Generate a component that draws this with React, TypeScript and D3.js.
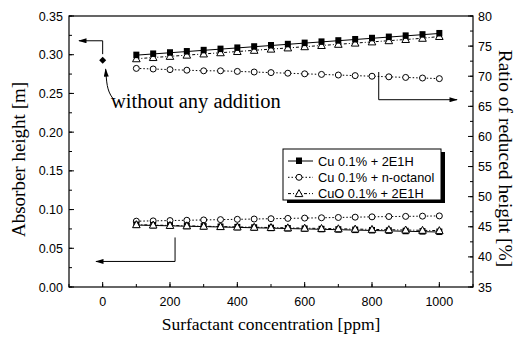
import React from "react";
import * as d3 from "d3";

const conc = [100,150,200,250,300,350,400,450,500,550,600,650,700,750,800,850,900,950,1000];
// right axis (ratio of reduced height, %)
const ratioCu2E1H = [73.5,73.7,73.9,74.1,74.3,74.5,74.7,74.9,75.1,75.3,75.5,75.7,75.9,76.1,76.3,76.5,76.7,76.9,77.1];
const ratioCuOct = [71.3,71.2,71.1,71.0,70.9,70.9,70.8,70.7,70.6,70.5,70.4,70.3,70.2,70.1,70.0,69.9,69.8,69.7,69.6];
const ratioCuO2E1H = [72.9,73.1,73.3,73.5,73.7,73.9,74.1,74.3,74.5,74.7,74.9,75.1,75.3,75.5,75.7,75.9,76.1,76.3,76.6];
// left axis (absorber height, m)
const hCu2E1H = [0.080,0.0795,0.079,0.0785,0.078,0.0775,0.077,0.0765,0.076,0.0755,0.075,0.0745,0.074,0.0735,0.073,0.0725,0.072,0.0715,0.071];
const hCuOct = [0.085,0.0854,0.0858,0.0862,0.0866,0.087,0.0874,0.0878,0.0882,0.0886,0.089,0.0894,0.0898,0.0902,0.0906,0.091,0.0912,0.0915,0.0918];
const hCuO2E1H = [0.0805,0.080,0.0795,0.079,0.0785,0.078,0.0776,0.0772,0.0768,0.0764,0.076,0.0756,0.0752,0.0748,0.0744,0.074,0.0736,0.0732,0.0728];
const noAdditionX = 0;
const noAdditionH = 0.293;

const leftTicks = [0.0,0.05,0.10,0.15,0.20,0.25,0.30,0.35];
const rightTicks = [35,40,45,50,55,60,65,70,75,80];
const xTicks = [0,200,400,600,800,1000];
const legendLabels = ["Cu 0.1% + 2E1H","Cu 0.1% + n-octanol","CuO 0.1% + 2E1H"];

const L = 69, R = 473, T = 16, B = 287;
const x = d3.scaleLinear().domain([-100,1100]).range([L,R]);
const yL = d3.scaleLinear().domain([0,0.35]).range([B,T]);
const yR = d3.scaleLinear().domain([35,80]).range([B,T]);

const sans = "Liberation Sans, Arial, sans-serif";
const serif = "Liberation Serif, Times New Roman, serif";

function Square({cx,cy}:{cx:number;cy:number}) {
  return <rect x={cx-3} y={cy-3.5} width={6} height={6.5} fill="#000"/>;
}
function Circle({cx,cy}:{cx:number;cy:number}) {
  return <circle cx={cx} cy={cy} r={3} fill="#fff" stroke="#000" strokeWidth={1}/>;
}
function Tri({cx,cy}:{cx:number;cy:number}) {
  return <path d={`M${cx},${cy-4}L${cx+3.8},${cy+3}L${cx-3.8},${cy+3}Z`} fill="#fff" stroke="#000" strokeWidth={1}/>;
}

export default function App() {
  const lineL = (vals:number[], ys:any) => d3.line<number>().x((_,i)=>x(conc[i])).y(v=>ys(v))(vals) || "";
  const minorL = d3.range(0,0.351,0.025);
  const minorR = d3.range(35,80.1,2.5);
  const minorX = d3.range(-100,1101,100);
  const series = [
    {vals: ratioCuO2E1H, ys: yR, M: Tri, dash: "3,2,1,2"},
    {vals: ratioCu2E1H, ys: yR, M: Square, dash: ""},
    {vals: ratioCuOct, ys: yR, M: Circle, dash: "1.5,2"},
    {vals: hCuOct, ys: yL, M: Circle, dash: "1.5,2"},
    {vals: hCu2E1H, ys: yL, M: Square, dash: ""},
    {vals: hCuO2E1H, ys: yL, M: Tri, dash: "3,2,1,2"},
  ];
  const dx = x(noAdditionX), dy = yL(noAdditionH);
  return (
    <svg width={515} height={341} style={{display:"block",position:"absolute",left:0,top:0}}>
      <defs>
        <marker id="ah" viewBox="0 0 10 6" refX="9" refY="3" markerWidth="9" markerHeight="5" orient="auto">
          <path d="M0,0L10,3L0,6Z" fill="#000"/>
        </marker>
      </defs>
      <rect width={515} height={341} fill="#fff"/>
      <rect x={L} y={T} width={R-L} height={B-T} fill="none" stroke="#000" strokeWidth={1.2}/>
      {leftTicks.map(t=>(
        <g key={"l"+t}>
          <line x1={L} x2={L+5} y1={yL(t)} y2={yL(t)} stroke="#000"/>
          <text x={L-6} y={yL(t)+4.5} textAnchor="end" fontFamily={sans} fontSize={12.5}>{t.toFixed(2)}</text>
        </g>
      ))}
      {minorL.map(t=><line key={"ml"+t} x1={L} x2={L+3} y1={yL(t)} y2={yL(t)} stroke="#000"/>)}
      {rightTicks.map(t=>(
        <g key={"r"+t}>
          <line x1={R-5} x2={R} y1={yR(t)} y2={yR(t)} stroke="#000"/>
          <text x={R+5} y={yR(t)+4.5} textAnchor="start" fontFamily={sans} fontSize={12.5}>{t}</text>
        </g>
      ))}
      {minorR.map(t=><line key={"mr"+t} x1={R-3} x2={R} y1={yR(t)} y2={yR(t)} stroke="#000"/>)}
      {xTicks.map(t=>(
        <g key={"x"+t}>
          <line x1={x(t)} x2={x(t)} y1={B} y2={B-5} stroke="#000"/>
          <text x={x(t)} y={B+19} textAnchor="middle" fontFamily={sans} fontSize={12.5}>{t}</text>
        </g>
      ))}
      {minorX.map(t=><line key={"mx"+t} x1={x(t)} x2={x(t)} y1={B} y2={B-3} stroke="#000"/>)}

      {series.map((s,k)=>(
        <g key={"s"+k}>
          <path d={lineL(s.vals,s.ys)} fill="none" stroke="#000" strokeWidth={1} strokeDasharray={s.dash}/>
          {s.vals.map((v,i)=><s.M key={i} cx={x(conc[i])} cy={s.ys(v)}/>)}
        </g>
      ))}

      <path d={`M${dx-3.5},${dy}L${dx},${dy-3.5}L${dx+3.5},${dy}L${dx},${dy+3.5}Z`} fill="#000"/>
      <path d={`M${dx},${dy-6}L${dx},${yL(0.318)}L${L+10},${yL(0.318)}`} fill="none" stroke="#000" markerEnd="url(#ah)"/>
      <path d={`M${dx+10},${dy+38}C${dx+4},${dy+30} ${dx+4},${dy+22} ${dx+3},${dy+9}`} fill="none" stroke="#000" markerEnd="url(#ah)"/>
      <text x={111} y={108} fontFamily={serif} fontSize={20.5}>without any addition</text>
      <path d={`M${x(820)},${yR(70.7)}L${x(820)},${yR(66.1)}L${R-16},${yR(66.1)}`} fill="none" stroke="#000" markerEnd="url(#ah)"/>
      <path d={`M${x(215)},${yL(0.064)}L${x(215)},${yL(0.033)}L${L+27},${yL(0.033)}`} fill="none" stroke="#000" markerEnd="url(#ah)"/>

      <g>
        <rect x={287} y={152} width={158} height={51} fill="#000"/>
        <rect x={283} y={149} width={158} height={51} fill="#fff" stroke="#000" strokeWidth={1}/>
        {legendLabels.map((lab,i)=>{
          const ly = 161 + i*16.3;
          const M = [Square,Circle,Tri][i];
          return (
            <g key={lab}>
              <line x1={288} x2={313} y1={ly} y2={ly} stroke="#000" strokeDasharray={["","1.5,2","3,2,1,2"][i]}/>
              <M cx={299} cy={ly}/>
              <text x={318} y={ly+4.5} fontFamily={sans} fontSize={12.8}>{lab}</text>
            </g>
          );
        })}
      </g>

      <text transform={`translate(25,${(T+B)/2 + 8}) rotate(-90)`} textAnchor="middle" fontFamily={serif} fontSize={19}>Absorber height [m]</text>
      <text transform={`translate(499,${(T+B)/2 + 7}) rotate(90)`} textAnchor="middle" fontFamily={serif} fontSize={19.5}>Ratio of reduced height [%]</text>
      <text x={(L+R)/2} y={330} textAnchor="middle" fontFamily={serif} fontSize={17.5}>Surfactant concentration [ppm]</text>
    </svg>
  );
}
